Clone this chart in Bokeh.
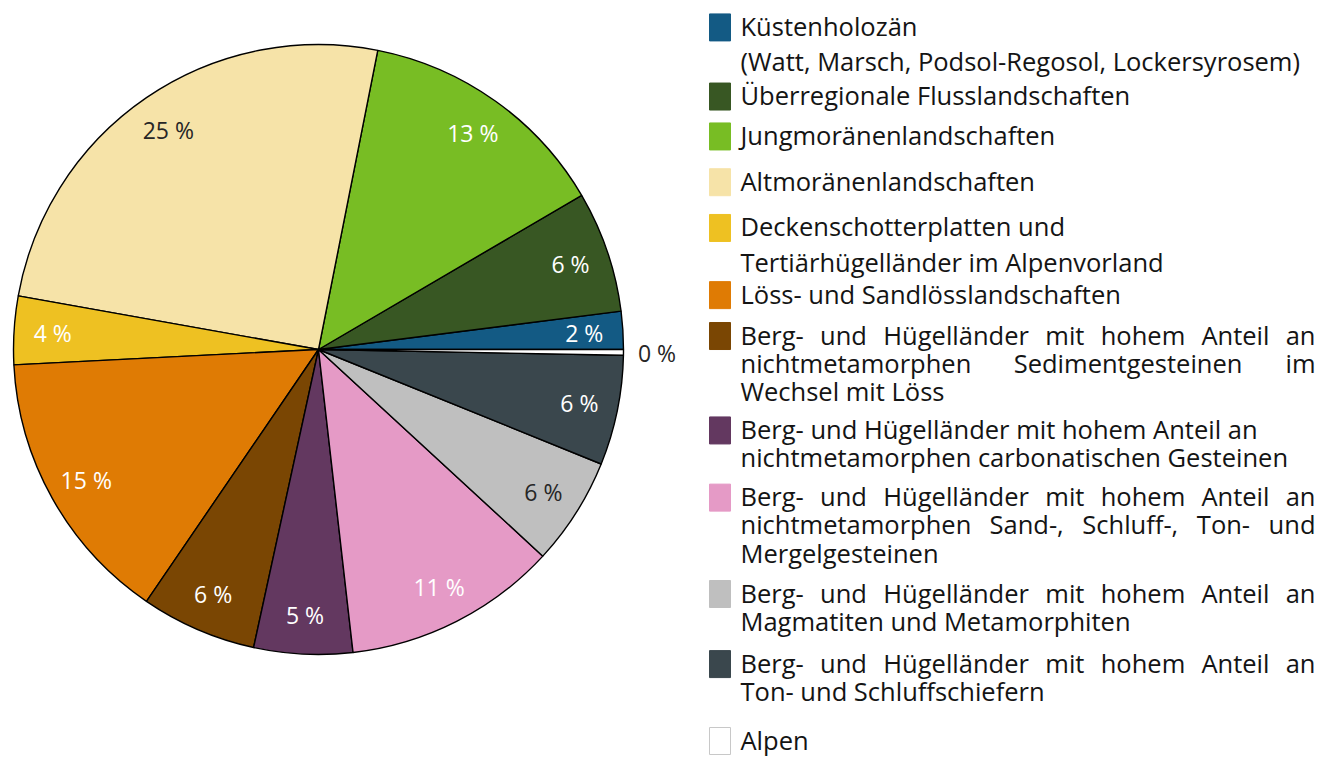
import numpy as np
from bokeh.plotting import figure
from bokeh.models import Range1d, ColumnDataSource
from bokeh.embed import file_html
from bokeh.resources import INLINE
from bokeh.core.properties import value

# ---------------- data ----------------
categories = [
    "Küstenholozän (Watt, Marsch, Podsol-Regosol, Lockersyrosem)",
    "Überregionale Flusslandschaften",
    "Jungmoränenlandschaften",
    "Altmoränenlandschaften",
    "Deckenschotterplatten und Tertiärhügelländer im Alpenvorland",
    "Löss- und Sandlösslandschaften",
    "Berg- und Hügelländer mit hohem Anteil an nichtmetamorphen Sedimentgesteinen im Wechsel mit Löss",
    "Berg- und Hügelländer mit hohem Anteil an nichtmetamorphen carbonatischen Gesteinen",
    "Berg- und Hügelländer mit hohem Anteil an nichtmetamorphen Sand-, Schluff-, Ton- und Mergelgesteinen",
    "Berg- und Hügelländer mit hohem Anteil an Magmatiten und Metamorphiten",
    "Berg- und Hügelländer mit hohem Anteil an Ton- und Schluffschiefern",
    "Alpen",
]
shares = [2.0, 6.4, 13.4, 25.2, 3.6, 14.6, 6.1, 5.2, 11.3, 5.7, 5.8, 0.3]
colors = ["#135a84", "#385723", "#78bd24", "#f6e3a8", "#eec122", "#df7b04",
          "#7a4603", "#633860", "#e59ac6", "#bfbfbf", "#3a474d", "#ffffff"]
label_colors = ["#ffffff", "#ffffff", "#ffffff", "#262626", "#ffffff", "#ffffff",
                "#ffffff", "#ffffff", "#ffffff", "#262626", "#ffffff", "#262626"]

# legend lines (as printed) for each category
legend_lines = [
    ["Küstenholozän", "(Watt, Marsch, Podsol-Regosol, Lockersyrosem)"],
    ["Überregionale Flusslandschaften"],
    ["Jungmoränenlandschaften"],
    ["Altmoränenlandschaften"],
    ["Deckenschotterplatten und", "Tertiärhügelländer im Alpenvorland"],
    ["Löss- und Sandlösslandschaften"],
    ["Berg- und Hügelländer mit hohem Anteil an", "nichtmetamorphen Sedimentgesteinen im", "Wechsel mit Löss"],
    ["Berg- und Hügelländer mit hohem Anteil an", "nichtmetamorphen carbonatischen Gesteinen"],
    ["Berg- und Hügelländer mit hohem Anteil an", "nichtmetamorphen Sand-, Schluff-, Ton- und", "Mergelgesteinen"],
    ["Berg- und Hügelländer mit hohem Anteil an", "Magmatiten und Metamorphiten"],
    ["Berg- und Hügelländer mit hohem Anteil an", "Ton- und Schluffschiefern"],
    ["Alpen"],
]
justified_items = [6, 8, 9, 10]

# ---------------- layout (pixels) ----------------
W, H = 1319, 758
CX, CY, R = 318, 349, 305
LEG_SQ_L, LEG_SQ_R = 709, 730
TXT_L, TXT_R = 740, 1315
FONT = "Open Sans"
LEG_SIZE = 25.5
LAB_SIZE = 23
ref_baselines = [[36, 72], [107], [148], [195], [242, 278], [311],
                 [353, 382, 411], [450, 479], [519, 548, 577], [618, 647],
                 [690, 719], [769]]
# compress legend vertically a little so that it fits the plot height
K = (749 - 14) / (769 - 14)
item_baselines = [[14 + (b - 14) * K for b in row] for row in ref_baselines]
MID_OFF = 10  # distance from baseline to the 'middle' anchor

p = figure(width=W, height=H, x_range=Range1d(0, W), y_range=Range1d(-H, 0),
           output_backend="svg", toolbar_location=None, min_border=0,
           x_axis_location=None, y_axis_location=None)
p.xgrid.visible = False
p.ygrid.visible = False
p.outline_line_color = None
p.background_fill_color = "white"
p.border_fill_color = "white"

# ---------------- pie ----------------
vals = np.array(shares, dtype=float)
frac = vals / vals.sum()
ends = np.cumsum(frac) * 2 * np.pi
starts = np.concatenate([[0.0], ends[:-1]])
pie_src = ColumnDataSource(dict(start=starts, end=ends, color=colors, cat=categories))
p.wedge(x=CX, y=-CY, radius=R, start_angle="start", end_angle="end",
        fill_color="color", line_color="black", line_width=1.4, source=pie_src)

mids = (starts + ends) / 2
lab_r = np.where(vals >= 1.0, 0.873 * R, 1.11 * R)
lab_src = ColumnDataSource(dict(
    x=CX + lab_r * np.cos(mids),
    y=-CY + lab_r * np.sin(mids),
    text=[f"{int(round(v))} %" for v in vals],
    color=label_colors,
))
p.text(x="x", y="y", text="text", text_color="color", source=lab_src,
       text_align="center", text_baseline="middle",
       text_font=value(FONT), text_font_size=f"{LAB_SIZE}px")

# ---------------- legend ----------------
sq_src = ColumnDataSource(dict(
    left=[LEG_SQ_L] * len(colors), right=[LEG_SQ_R] * len(colors),
    top=[-(b[0] - 22) for b in item_baselines],
    bottom=[-(b[0] + 5) for b in item_baselines],
    color=colors,
    line=[c if c != "#ffffff" else "#c8c8c8" for c in colors],
))
p.quad(left="left", right="right", top="top", bottom="bottom",
       fill_color="color", line_color="line", line_width=1, source=sq_src)

# approximate Open Sans advance widths (em) for justification
cw = {'B': .64, 'H': .74, 'A': .63, 'S': .55, 'T': .55, 'M': .89, 'W': .94,
      'e': .56, 'r': .41, 'g': .55, '-': .32, 'u': .61, 'ü': .61, 'n': .61,
      'd': .61, 'l': .25, 'ä': .56, 'a': .56, 'm': .93, 'i': .25, 't': .35,
      'h': .61, 'o': .60, 'c': .48, 'p': .61, 's': .48, 'f': .34, ',': .25}

def word_w(w):
    return sum(cw.get(ch, .55) for ch in w) * LEG_SIZE

left_t = dict(x=[], y=[], text=[])
center_t = dict(x=[], y=[], text=[])
right_t = dict(x=[], y=[], text=[])
for i, lines in enumerate(legend_lines):
    for j, line in enumerate(lines):
        yb = -(item_baselines[i][j] - MID_OFF)
        justify = (i in justified_items) and (j < len(lines) - 1)
        if not justify:
            left_t["x"].append(TXT_L); left_t["y"].append(yb); left_t["text"].append(line)
            continue
        words = line.split()
        ws = [word_w(w) for w in words]
        gap = (TXT_R - TXT_L - sum(ws)) / (len(words) - 1)
        cur = TXT_L
        for k, (w, ww) in enumerate(zip(words, ws)):
            if k == 0:
                left_t["x"].append(TXT_L); left_t["y"].append(yb); left_t["text"].append(w)
            elif k == len(words) - 1:
                right_t["x"].append(TXT_R); right_t["y"].append(yb); right_t["text"].append(w)
            else:
                center_t["x"].append(cur + ww / 2); center_t["y"].append(yb); center_t["text"].append(w)
            cur += ww + gap

for d, al in ((left_t, "left"), (center_t, "center"), (right_t, "right")):
    p.text(x="x", y="y", text="text", source=ColumnDataSource(d),
           text_align=al, text_baseline="middle", text_color="#141414",
           text_font=value(FONT), text_font_size=f"{LEG_SIZE}px")

open("out.html", "w").write(file_html(p, INLINE))
